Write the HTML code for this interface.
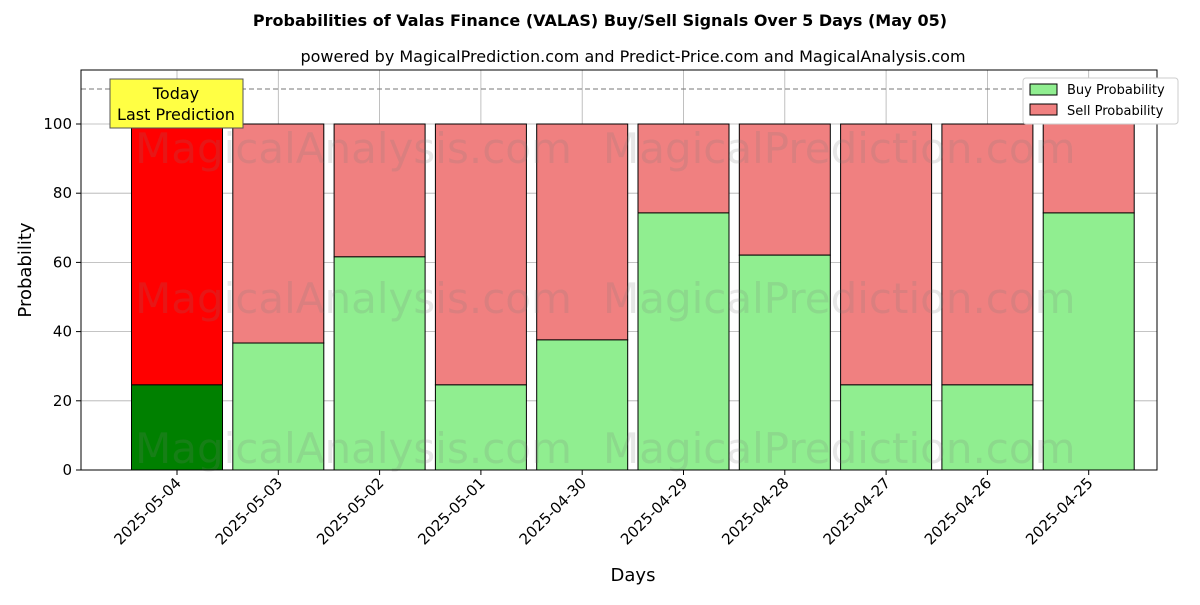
<!DOCTYPE html>
<html><head><meta charset="utf-8"><style>
body{margin:0;background:#fff;font-family:"Liberation Sans","DejaVu Sans",sans-serif}
</style></head><body>
<svg width="1200" height="600" xmlns="http://www.w3.org/2000/svg" font-family="DejaVu Sans, Liberation Sans, sans-serif">
<text x="600" y="26" text-anchor="middle" font-size="16" font-weight="bold">Probabilities of Valas Finance (VALAS) Buy/Sell Signals Over 5 Days (May 05)</text>
<text x="633" y="62" text-anchor="middle" font-size="16">powered by MagicalPrediction.com and Predict-Price.com and MagicalAnalysis.com</text>
<g id="grid"></g>
<g id="bars"></g>
<g id="wm" font-size="42" fill="rgba(120,120,120,0.18)">
<text x="135" y="163">MagicalAnalysis.com</text><text x="603" y="163">MagicalPrediction.com</text>
<text x="135" y="313">MagicalAnalysis.com</text><text x="603" y="313">MagicalPrediction.com</text>
<text x="135" y="463">MagicalAnalysis.com</text><text x="603" y="463">MagicalPrediction.com</text>
</g>
<line x1="81" x2="1157" y1="89" y2="89" stroke="#777" stroke-dasharray="5,3"/>
<rect x="81" y="70" width="1076" height="400" fill="none" stroke="#000"/>
<g id="axes"></g>
<rect x="110" y="79" width="133" height="49" fill="#ffff44" stroke="#555"/>
<text x="176" y="99" text-anchor="middle" font-size="16">Today</text>
<text x="176" y="120" text-anchor="middle" font-size="16">Last Prediction</text>
<g>
<rect x="1023" y="78" width="155" height="46" fill="#fff" stroke="#ccc" rx="3"/>
<rect x="1030" y="84" width="27" height="11" fill="#90ee90" stroke="#000"/>
<text x="1067" y="94" font-size="13">Buy Probability</text>
<rect x="1030" y="104" width="27" height="11" fill="#f08080" stroke="#000"/>
<text x="1067" y="115" font-size="13">Sell Probability</text>
</g>
<text x="633" y="581" text-anchor="middle" font-size="18">Days</text>
<text transform="translate(31,270) rotate(-90)" text-anchor="middle" font-size="18">Probability</text>
</svg>
<script>
const categories=["2025-05-04","2025-05-03","2025-05-02","2025-05-01","2025-04-30","2025-04-29","2025-04-28","2025-04-27","2025-04-26","2025-04-25"];
const buyValues=[24.6,36.7,61.6,24.6,37.6,74.3,62.1,24.6,24.6,74.3];
const yTicks=[0,20,40,60,80,100];
const NS="http://www.w3.org/2000/svg";
const y=v=>470-v*3.46;
const x=i=>177+i*101.3;
function mk(t,a,p){const e=document.createElementNS(NS,t);for(const k in a)e.setAttribute(k,a[k]);p.appendChild(e);return e;}
const g=document.getElementById('grid'),b=document.getElementById('bars'),ax=document.getElementById('axes');
yTicks.forEach(v=>{
 const l=mk('line',{x1:81,x2:1157,y1:y(v),y2:y(v),stroke:'#b0b0b0','stroke-width':0.8},g);
 
 
 mk('line',{x1:76,x2:81,y1:y(v),y2:y(v),stroke:'#000'},ax);
 const t=mk('text',{x:72,y:y(v)+5,'text-anchor':'end','font-size':15},ax);t.textContent=v;
 
 
});
categories.forEach((c,i)=>{
 const l=mk('line',{x1:x(i),x2:x(i),y1:70,y2:470,stroke:'#b0b0b0','stroke-width':0.8},g);
 
 
 const bv=buyValues[i];
 const s=mk('rect',{x:x(i)-45.5,y:y(100),width:91,height:y(bv)-y(100),fill:i==0?'#ff0000':'#f08080',stroke:'#000','stroke-width':1},b);
 
 
 const r=mk('rect',{x:x(i)-45.5,y:y(bv),width:91,height:470-y(bv),fill:i==0?'#008000':'#90ee90',stroke:'#000','stroke-width':1},b);
 
 
 mk('line',{x1:x(i),x2:x(i),y1:470,y2:475,stroke:'#000'},ax);
 const t=mk('text',{transform:`translate(${x(i)+5},${484}) rotate(-45)`,'text-anchor':'end','font-size':15},ax);t.textContent=c;
 
 
});
</script>
</body></html>
